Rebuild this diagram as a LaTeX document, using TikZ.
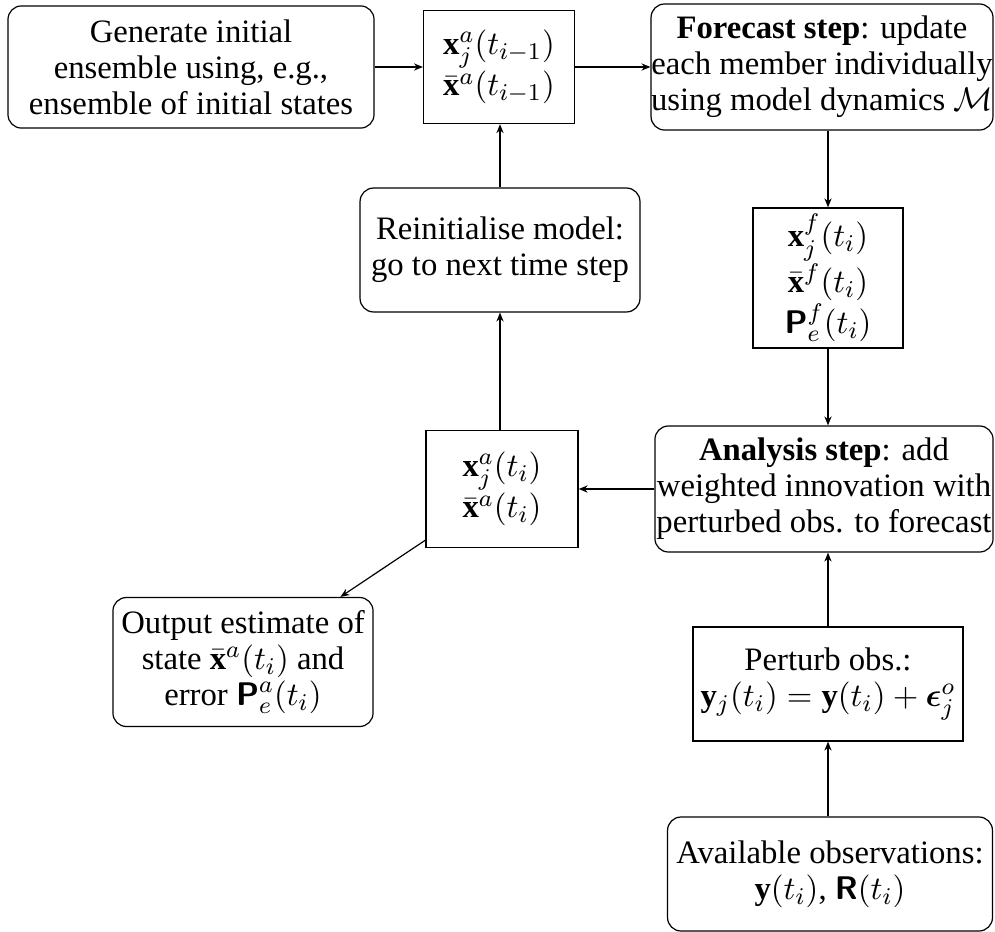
\documentclass[tikz,border=0pt]{standalone}
\usepackage{amsmath}
\usepackage{fontspec}
\setmainfont{Liberation Serif}
\usetikzlibrary{arrows.meta}
\newcommand\mynodefont{\fontsize{10.9}{12}\selectfont}
\begin{document}
\begin{tikzpicture}[x=0.3333pt,y=-0.3333pt,
  every node/.style={font=\mynodefont, align=center, inner sep=0pt},
  rbox/.style={draw, rounded corners=4.5pt},
  sbox/.style={draw},
  arr/.style={-{Stealth[length=3pt,width=2.4pt]}, line width=0.4pt}]
\useasboundingbox (0,0) rectangle (995,931);
\node[rbox, minimum width=122pt, minimum height=40.7pt] (A) at (191,67) {Generate initial\\ensemble using, e.g.,\\ensemble of initial states};
\node[sbox, minimum width=50.3pt, minimum height=37.7pt] (B) at (499,67) {$\mathbf{x}_j^a(t_{i-1})$\\$\bar{\mathbf{x}}^a(t_{i-1})$};
\node[rbox, minimum width=113.7pt, minimum height=42pt] (C) at (822,67) {\textbf{Forecast step}: update\\each member individually\\using model dynamics $\mathcal{M}$};
\node[sbox, minimum width=50pt, minimum height=46.7pt] (D) at (828,278) {$\mathbf{x}_j^f(t_i)$\\$\bar{\mathbf{x}}^f(t_i)$\\$\textsf{\textbf{P}}_e^f(t_i)$};
\node[rbox, minimum width=93.3pt, minimum height=41.3pt] (G) at (500,250) {Reinitialise model:\\go to next time step};
\node[sbox, minimum width=50.7pt, minimum height=39pt] (F) at (502,489) {$\mathbf{x}_j^a(t_i)$\\$\bar{\mathbf{x}}^a(t_i)$};
\node[rbox, minimum width=112.7pt, minimum height=42pt] (E) at (824,489) {\textbf{Analysis step}: add\\weighted innovation with\\perturbed obs. to forecast};
\node[rbox, minimum width=86.7pt, minimum height=43pt] (H) at (243,662) {Output estimate of\\state $\bar{\mathbf{x}}^a(t_i)$ and\\error $\textsf{\textbf{P}}^a_e(t_i)$};
\node[sbox, minimum width=90pt, minimum height=38pt] (I) at (828,684) {Perturb obs.:\\$\mathbf{y}_j(t_i)=\mathbf{y}(t_i)+\boldsymbol{\epsilon}^o_j$};
\node[rbox, minimum width=108.3pt, minimum height=38pt] (J) at (830,874) {Available observations:\\$\mathbf{y}(t_i)$, $\textsf{\textbf{R}}(t_i)$};
\draw[arr] (A) -- (B);
\draw[arr] (B) -- (C);
\draw[arr] (C.south -| D.north) -- (D.north);
\draw[arr] (D.south) -- (D.south |- E.north);
\draw[arr] (E) -- (F);
\draw[arr] (F.north -| G.south) -- (G.south);
\draw[arr] (G.north) -- (G.north |- B.south);
\draw[arr] (F) -- (H);
\draw[arr] (I.north) -- (I.north |- E.south);
\draw[arr] (J.north -| I.south) -- (I.south);
\end{tikzpicture}
\end{document}
